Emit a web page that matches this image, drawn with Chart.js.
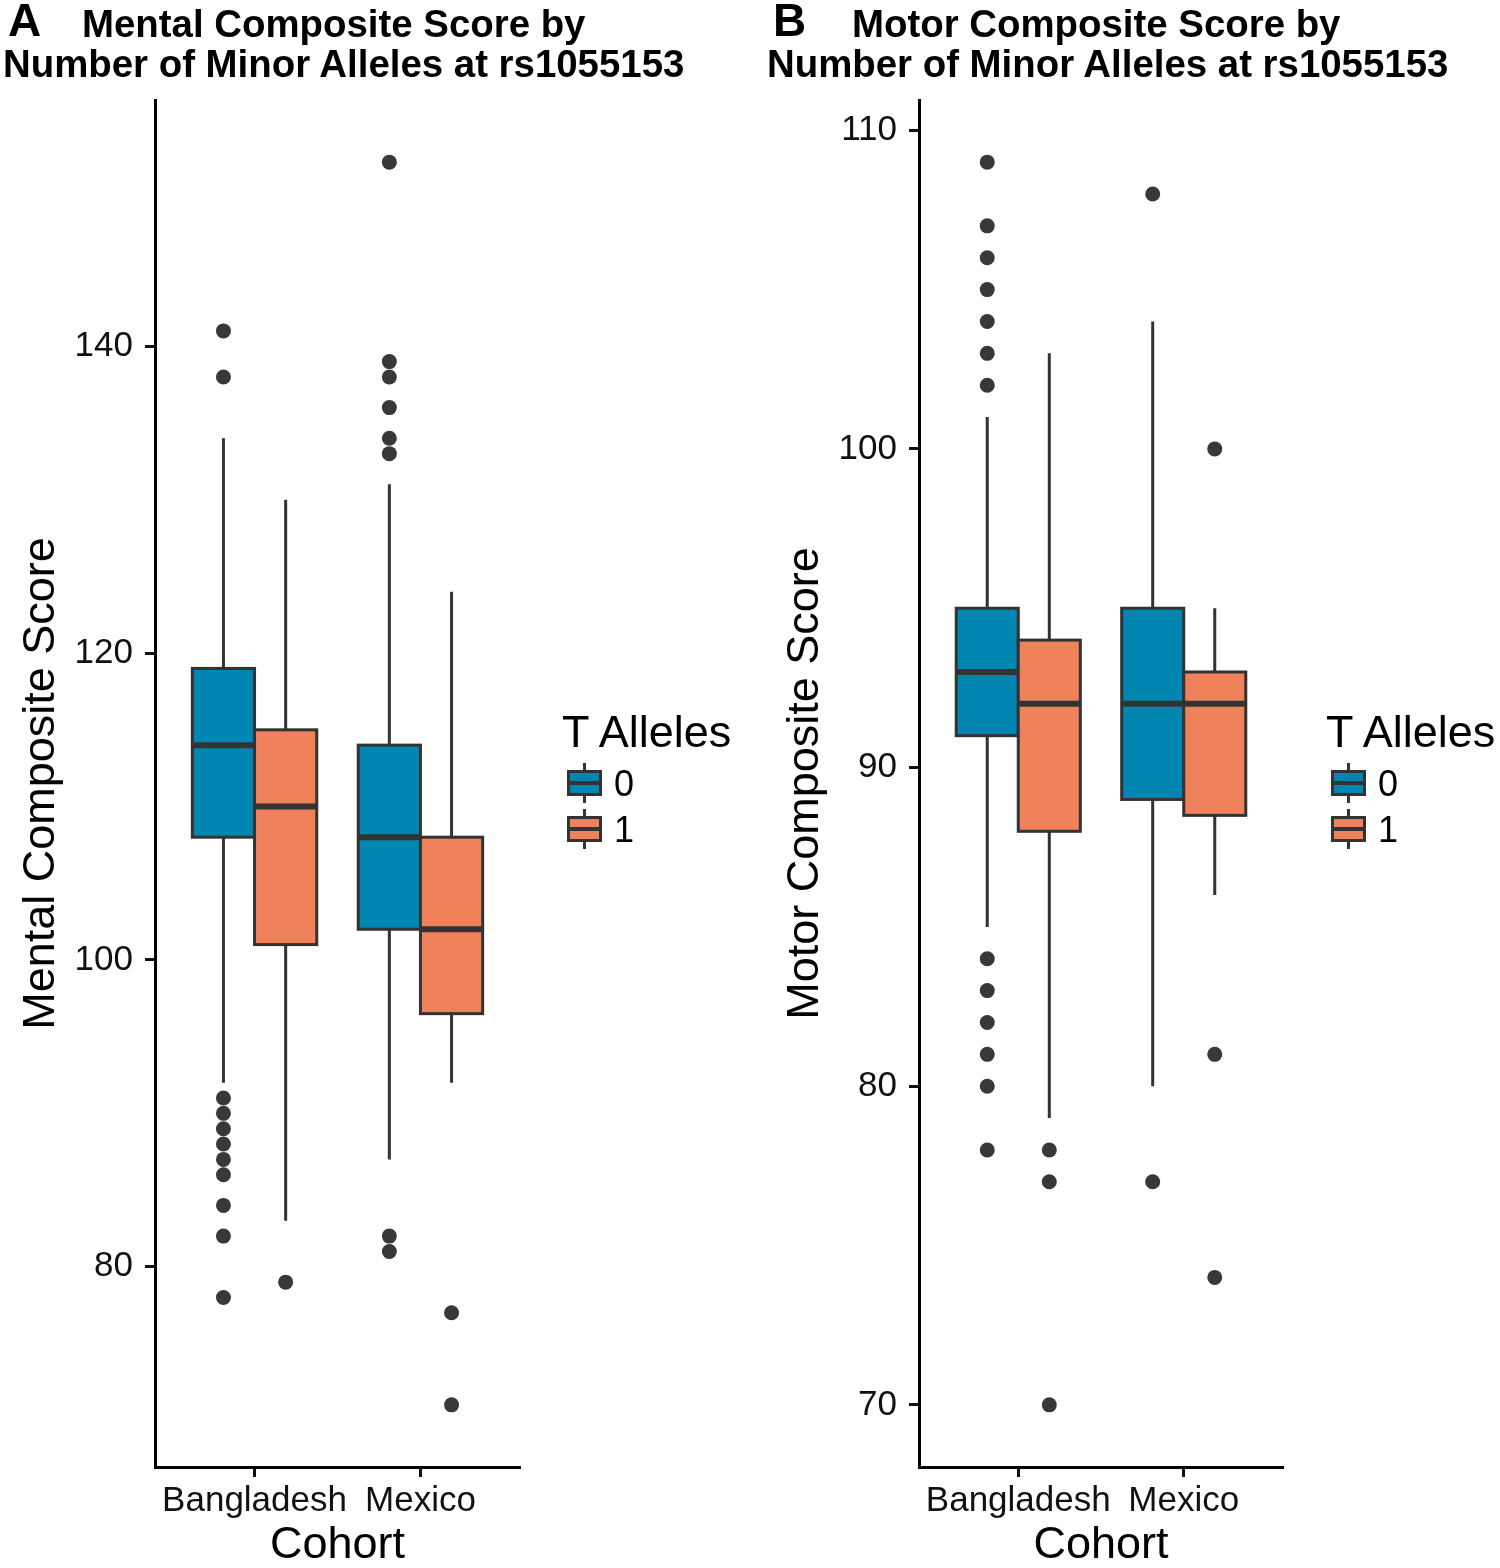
<!DOCTYPE html>
<html>
<head>
<meta charset="utf-8">
<script src="https://cdn.jsdelivr.net/npm/chart.js@4.4.1/dist/chart.umd.min.js"></script>
<style>
html, body { margin: 0; padding: 0; background: #fff; }
body { width: 1500px; height: 1568px; position: relative; overflow: hidden; font-family: "Liberation Sans", Arial, sans-serif; color: #000; }
canvas { position: absolute; top: 0; }
.t { position: absolute; font-weight: bold; white-space: pre; line-height: 40px; font-size: 38.4px; }
.tag { position: absolute; font-weight: bold; font-size: 46px; line-height: 46px; }
.lg-title { position: absolute; font-size: 45px; line-height: 45px; white-space: pre; }
.lg-label { position: absolute; font-size: 36px; line-height: 36px; }
.key { position: absolute; width: 35px; height: 26px; box-sizing: border-box; border: 3px solid #333; }
.key .med { position: absolute; left: 0; right: 0; top: 50%; height: 4px; margin-top: -2px; background: #333; }
.wh { position: absolute; width: 3px; background: #333; }
</style>
</head>
<body>
<canvas id="mental" width="750" height="1568" style="left:0px"></canvas>
<canvas id="motor" width="736" height="1568" style="left:764px"></canvas>

<div class="tag" style="left:8px; top:-3px;">A</div>
<div class="t" style="left:82px; top:4px;">Mental Composite Score by</div>
<div class="t" style="left:3px; top:44px;">Number of Minor Alleles at rs1055153</div>
<div class="tag" style="left:773px; top:-3px;">B</div>
<div class="t" style="left:852px; top:4px;">Motor Composite Score by</div>
<div class="t" style="left:767px; top:44px;">Number of Minor Alleles at rs1055153</div>

<div id="legends"></div>

<script>
// ---- Data ----
const categories = ['Bangladesh', 'Mexico'];
const alleleGroups = ['0', '1'];
const legendTitle = 'T Alleles';
const xTitle = 'Cohort';

// Mental composite score, indexed [cohort][allele group]
const mentalLower  = [[92, 83], [87, 92]];
const mentalQ1     = [[108, 101], [102, 96.5]];
const mentalMedian = [[114, 110], [108, 102]];
const mentalQ3     = [[119, 115], [114, 108]];
const mentalUpper  = [[134, 130], [131, 124]];
const mentalOutliers = [
  [[141, 138, 91, 90, 89, 88, 87, 86, 84, 82, 78], [79]],
  [[152, 139, 138, 136, 134, 133, 82, 81], [77, 71]]
];
const mentalTicks = [80, 100, 120, 140];

// Motor composite score, indexed [cohort][allele group]
const motorLower  = [[85, 79], [80, 86]];
const motorQ1     = [[91, 88], [89, 88.5]];
const motorMedian = [[93, 92], [92, 92]];
const motorQ3     = [[95, 94], [95, 93]];
const motorUpper  = [[101, 103], [104, 95]];
const motorOutliers = [
  [[109, 107, 106, 105, 104, 103, 102, 84, 83, 82, 81, 80, 78], [78, 77, 70]],
  [[108, 77], [100, 81, 74]]
];
const motorTicks = [70, 80, 90, 100, 110];

// ---- Styling ----
const fills = ['#0086B0', '#F0825B'];
const lineColor = '#333333';
const dodge = [-0.1875, 0.1875];
const halfWidth = 0.1875;

Chart.defaults.font.family = '"Liberation Sans", Arial, sans-serif';
Chart.defaults.color = '#000';

function makeBoxPlugin(stats) {
  return {
    id: 'boxes',
    beforeDatasetsDraw(chart) {
      const ctx = chart.ctx;
      const xs = chart.scales.x, ys = chart.scales.y;
      ctx.save();
      ctx.strokeStyle = lineColor;
      for (let c = 0; c < categories.length; c++) {
        for (let g = 0; g < alleleGroups.length; g++) {
          const cx = c + 1 + dodge[g];
          const xl = xs.getPixelForValue(cx - halfWidth);
          const xr = xs.getPixelForValue(cx + halfWidth);
          const xm = xs.getPixelForValue(cx);
          const yLo = ys.getPixelForValue(stats.lower[c][g]);
          const yQ1 = ys.getPixelForValue(stats.q1[c][g]);
          const yMd = ys.getPixelForValue(stats.median[c][g]);
          const yQ3 = ys.getPixelForValue(stats.q3[c][g]);
          const yUp = ys.getPixelForValue(stats.upper[c][g]);
          ctx.lineWidth = 3;
          ctx.beginPath();
          ctx.moveTo(xm, yUp); ctx.lineTo(xm, yQ3);
          ctx.moveTo(xm, yQ1); ctx.lineTo(xm, yLo);
          ctx.stroke();
          ctx.fillStyle = fills[g];
          ctx.fillRect(xl, yQ3, xr - xl, yQ1 - yQ3);
          ctx.lineWidth = 3;
          ctx.strokeRect(xl, yQ3, xr - xl, yQ1 - yQ3);
          ctx.lineWidth = 6;
          ctx.beginPath();
          ctx.moveTo(xl, yMd); ctx.lineTo(xr, yMd);
          ctx.stroke();
        }
      }
      ctx.restore();
    }
  };
}

function buildChart(id, stats, outliers, ticks, yTitle, rightPad) {
  const all = [];
  for (let c = 0; c < categories.length; c++)
    for (let g = 0; g < alleleGroups.length; g++) {
      all.push(stats.lower[c][g], stats.upper[c][g]);
      outliers[c][g].forEach(v => all.push(v));
    }
  const lo = Math.min(...all), hi = Math.max(...all);
  const pad = (hi - lo) * 0.05;

  const points = [];
  for (let c = 0; c < categories.length; c++)
    for (let g = 0; g < alleleGroups.length; g++)
      outliers[c][g].forEach(v => points.push({ x: c + 1 + dodge[g], y: v }));

  return new Chart(document.getElementById(id), {
    type: 'scatter',
    data: {
      datasets: [{
        data: points,
        pointRadius: 7.5,
        pointHoverRadius: 7.5,
        pointBackgroundColor: '#383838',
        pointBorderWidth: 0,
        borderWidth: 0
      }]
    },
    options: {
      responsive: false,
      animation: false,
      devicePixelRatio: 1,
      layout: { padding: { top: 100, right: rightPad, bottom: 0, left: 0 } },
      plugins: { legend: { display: false }, tooltip: { enabled: false } },
      scales: {
        x: {
          type: 'linear',
          min: 0.4, max: 2.6,
          afterBuildTicks: s => { s.ticks = categories.map((_, i) => ({ value: i + 1 })); },
          afterFit: s => { s.height = 101; },
          ticks: { callback: (v, i) => categories[i], font: { size: 35 }, color: '#111', padding: 3, autoSkip: false, maxRotation: 0 },
          grid: { display: true, drawOnChartArea: false, drawTicks: true, tickLength: 10, tickWidth: 3, tickColor: '#111' },
          border: { display: true, color: '#000', width: 3 },
          title: { display: true, text: xTitle, font: { size: 45, lineHeight: 1 }, padding: { top: 0, bottom: 0 }, color: '#000' }
        },
        y: {
          type: 'linear',
          min: lo - pad, max: hi + pad,
          afterBuildTicks: s => { s.ticks = ticks.map(v => ({ value: v })); },
          afterFit: s => { s.width = 155; },
          ticks: { font: { size: 35 }, color: '#111', padding: 12 },
          grid: { display: true, drawOnChartArea: false, drawTicks: true, tickLength: 10, tickWidth: 3, tickColor: '#111' },
          border: { display: true, color: '#000', width: 3 },
          title: { display: true, text: yTitle, font: { size: 45, lineHeight: 1 }, padding: { top: 19, bottom: 0 }, color: '#000' }
        }
      }
    },
    plugins: [makeBoxPlugin(stats)]
  });
}

buildChart('mental',
  { lower: mentalLower, q1: mentalQ1, median: mentalMedian, q3: mentalQ3, upper: mentalUpper },
  mentalOutliers, mentalTicks, 'Mental Composite Score', 230);
buildChart('motor',
  { lower: motorLower, q1: motorQ1, median: motorMedian, q3: motorQ3, upper: motorUpper },
  motorOutliers, motorTicks, 'Motor Composite Score', 217);

// ---- Legends ----
function buildLegend(offsetX) {
  const root = document.getElementById('legends');
  const t = document.createElement('div');
  t.className = 'lg-title';
  t.style.left = (562 + offsetX) + 'px';
  t.style.top = '709px';
  t.textContent = legendTitle;
  root.appendChild(t);
  alleleGroups.forEach((grp, g) => {
    const top = 770 + g * 46;
    const k = document.createElement('div');
    k.className = 'key';
    k.style.left = (567 + offsetX) + 'px';
    k.style.top = top + 'px';
    k.style.background = fills[g];
    const m = document.createElement('div'); m.className = 'med'; k.appendChild(m);
    root.appendChild(k);
    const w1 = document.createElement('div'); w1.className = 'wh';
    w1.style.left = (583 + offsetX) + 'px'; w1.style.top = (top - 7) + 'px'; w1.style.height = '7px';
    root.appendChild(w1);
    const w2 = document.createElement('div'); w2.className = 'wh';
    w2.style.left = (583 + offsetX) + 'px'; w2.style.top = (top + 26) + 'px'; w2.style.height = '7px';
    root.appendChild(w2);
    const l = document.createElement('div');
    l.className = 'lg-label';
    l.style.left = (614 + offsetX) + 'px';
    l.style.top = (top - 4) + 'px';
    l.textContent = grp;
    root.appendChild(l);
  });
}
buildLegend(0);
buildLegend(764);
</script>
</body>
</html>
